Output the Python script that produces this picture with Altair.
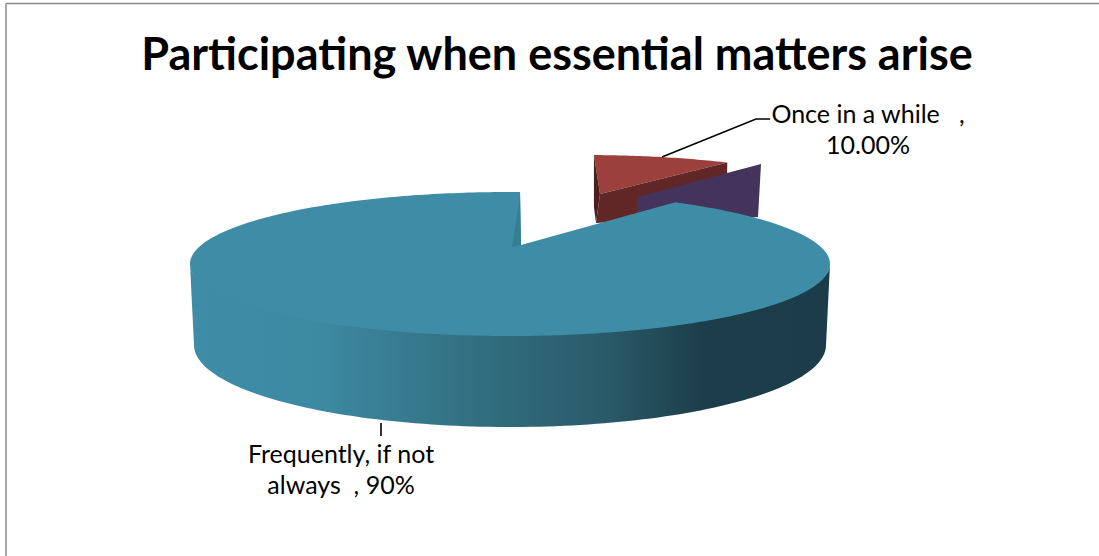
import numpy as np
import pandas as pd
import altair as alt

# Slice values and their labels
categories = ["Frequently, if not always", "Once in a while", "Rarely"]
shares = [90.0, 10.0, 0.0]
title_text = "Participating when essential matters arise"
freq_label = ["Frequently, if not", f"always\u00a0\u00a0, {shares[0]:.0f}%"]
once_label = ["Once in a while\u00a0\u00a0\u00a0,", f"{shares[1]:.2f}%"]

# Pie geometry, in chart units
W, H = 1099, 556
CX, CY, RX, RY = 510.0, 264.0, 320.0, 72.0
LOW_CY, LOW_RX, LOW_RY = 345.0, 316.0, 82.0
APEX = (521.0, 245.0)
FORESHORTEN = 0.814  # the rear of the tilted disc looks narrower than its true angle
START_DEG = 88.2
RED_C = (585.0, 227.0)
RED_APEX = (600.0, 194.0)
RED_SWEEP = (88.4, 63.6)

x_scale = alt.Scale(domain=[0, W], range=[0, W], nice=False, zero=False)
y_scale = alt.Scale(domain=[0, H], range=[0, H], nice=False, zero=False)


def rim(cx, cy, rx, ry, t0, t1, n=120):
    t = np.radians(np.linspace(t0, t1, n))
    return list(cx + rx * np.cos(t)), list(cy - ry * np.sin(t))


def face(xs, ys, fill):
    df = pd.DataFrame({"x": xs, "y": ys, "i": range(len(xs))})
    return alt.Chart(df).mark_line(fill=fill, stroke=None, strokeWidth=0, clip=False).encode(
        x=alt.X("x:Q", scale=x_scale, axis=None),
        y=alt.Y("y:Q", scale=y_scale, axis=None),
        order="i:Q",
    )


def polyline(xs, ys, width=1.6, color="#000000"):
    df = pd.DataFrame({"x": xs, "y": ys, "i": range(len(xs))})
    return alt.Chart(df).mark_line(color=color, strokeWidth=width).encode(
        x=alt.X("x:Q", scale=x_scale, axis=None),
        y=alt.Y("y:Q", scale=y_scale, axis=None),
        order="i:Q",
    )


def text_lines(lines, x, y0, step, size, weight="normal"):
    df = pd.DataFrame({"t": lines, "x": [x] * len(lines), "y": [y0 + step * k for k in range(len(lines))]})
    return alt.Chart(df).mark_text(
        font="Lato", fontSize=size, fontWeight=weight, color="#000000", align="center", baseline="alphabetic"
    ).encode(
        x=alt.X("x:Q", scale=x_scale, axis=None),
        y=alt.Y("y:Q", scale=y_scale, axis=None),
        text="t:N",
    )


gap_deg = 360 * shares[1] / 100 * FORESHORTEN
end_deg = START_DEG + 360 - gap_deg

# Outer wall: runs under the top face across the front, lower rim returning
upper_x, upper_y = rim(CX, CY, RX, RY - 4, 180, 360)
lower_x, lower_y = rim(CX, LOW_CY, LOW_RX, LOW_RY, 360, 180)
wall_fill = alt.Gradient(
    gradient="linear", x1=0, x2=1, y1=0, y2=0,
    stops=[
        alt.GradientStop(color="#3e8ca6", offset=0),
        alt.GradientStop(color="#3c8aa2", offset=0.2),
        alt.GradientStop(color="#397e94", offset=0.3),
        alt.GradientStop(color="#316f80", offset=0.45),
        alt.GradientStop(color="#2a5a69", offset=0.65),
        alt.GradientStop(color="#1c3e4a", offset=0.8),
        alt.GradientStop(color="#1b3c48", offset=1),
    ],
)
wall = face(upper_x + lower_x, upper_y + lower_y, wall_fill)

# Top of the large slice
top_x, top_y = rim(CX, CY, RX, RY, START_DEG, end_deg, 360)
top = face([APEX[0]] + top_x, [APEX[1]] + top_y, "#3e8ca6")
notch = face([top_x[0], APEX[0], APEX[0] - 9], [top_y[0] + 4, APEX[1], APEX[1] + 2], "#357f92")

# Small slice pulled out of the pie, behind the large one
red_x, red_y = rim(RED_C[0], RED_C[1], RX, RY, RED_SWEEP[0], RED_SWEEP[1], 40)
red_top = face([RED_APEX[0]] + red_x, [RED_APEX[1]] + red_y, "#9c403d")
red_wall = face(
    [RED_APEX[0], red_x[-1], red_x[-1] - 1, RED_APEX[0] - 4],
    [RED_APEX[1], red_y[-1], red_y[-1] + 52, RED_APEX[1] + 29],
    "#602726",
)
red_side = face(
    [red_x[0], RED_APEX[0], RED_APEX[0] - 4, red_x[0]],
    [red_y[0], RED_APEX[1], RED_APEX[1] + 29, red_y[0] + 52],
    "#4a1f1e",
)

# Wall of the empty slice
purple = face([637, 761, 758, 637], [197, 164, 217, 225], "#44335a")

frame_top = polyline([6, W], [3.5, 3.5], 1.5, "#8a8a8a")
frame_left = polyline([6, 6], [3.5, H], 1.5, "#8a8a8a")

once_lead = polyline([662, 756, 770], [157, 119, 119])
freq_lead = polyline([381, 381], [423, 436])

chart = alt.layer(
    frame_top, frame_left,
    red_top, red_wall, red_side, purple,
    wall, top, notch,
    once_lead, freq_lead,
    text_lines([title_text], 557, 70, 0, 45, "bold"),
    text_lines(once_label, 868, 123, 31, 25),
    text_lines(freq_label, 341, 463, 31, 25),
).properties(
    width=W, height=H, padding=0, autosize=alt.AutoSizeParams(type="none"), background="#ffffff"
).configure_view(stroke=None)

chart.save("out.html", embed_options={"renderer": "svg", "actions": False})
